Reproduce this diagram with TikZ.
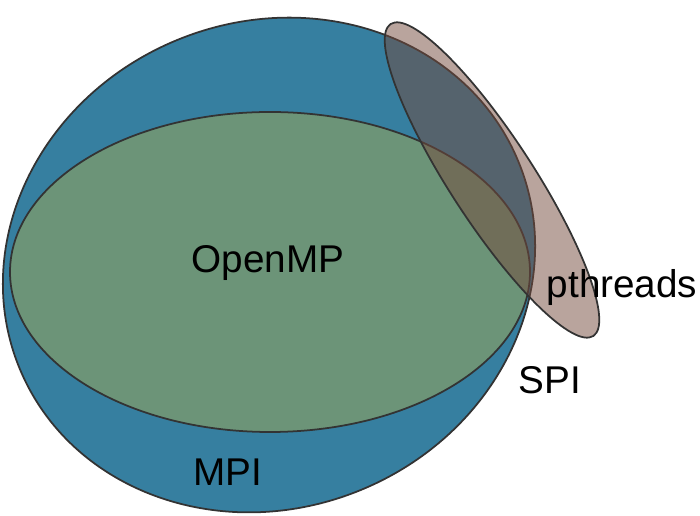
\documentclass[tikz,border=0pt]{standalone}
\usepackage{fontspec}
\setmainfont{Liberation Sans}
\usetikzlibrary{positioning}
\definecolor{mpiblue}{RGB}{54,127,160}
\definecolor{ompgreen}{RGB}{108,148,120}
\definecolor{pthbrown}{RGB}{116,73,60}
\tikzset{
    set/.style={draw=black!80,line width=0.5pt},
    lbl/.style={font=\fontsize{11}{13}\selectfont,inner sep=0pt}
}
\begin{document}
\begin{tikzpicture}[x=0.01cm,y=-0.01cm]
        \useasboundingbox (0,0) rectangle (700,516);
        % sets
        \draw[set,fill=mpiblue,rotate around={23:(269,265)}] (269,265) ellipse [x radius=270,y radius=243];
        \draw[set,fill=ompgreen] (270,272) ellipse [x radius=260,y radius=160];
        \draw[set,fill=pthbrown,fill opacity=0.5,rotate around={-57:(492,180)}] (492,180) ellipse [x radius=186,y radius=42];
        % labels
        \node[lbl] (openmp) at (268,263) {OpenMP};
        \node[lbl] (pthreads) at (622,288) {pthreads};
        \node[lbl] (spi) at (550,380) {SPI};
        \node[lbl] (mpi) at (228,472) {MPI};
    \end{tikzpicture}
\end{document}
